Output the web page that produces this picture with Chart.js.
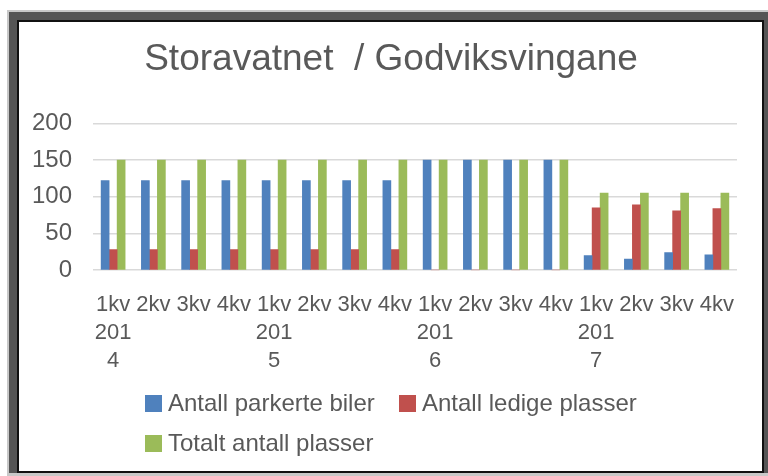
<!DOCTYPE html>
<html>
<head>
<meta charset="utf-8">
<script src="https://cdn.jsdelivr.net/npm/chart.js@4"></script>
<style>
  html, body { margin: 0; padding: 0; background: #ffffff; width: 768px; height: 476px; overflow: hidden; }
  .abs { position: absolute; box-sizing: border-box; }
  #outer { left: 7px; top: 10px; width: 761px; height: 466px; background: #c8c8c8; }
  #dark { left: 9px; top: 12px; width: 759px; height: 461px; background: #555555; }
  #inner { left: 17px; top: 20px; width: 747px; height: 453px; border: 2px solid #111111; background: #ffffff; }
  #chart { position: absolute; left: 0; top: 0; }
  .lg-box { position: absolute; width: 17px; height: 17px; }
  .lg-text { position: absolute; font-family: "Liberation Sans", Arial, sans-serif; font-size: 24px; color: #595959; line-height: 28px; white-space: nowrap; }
</style>
</head>
<body>
<div id="outer" class="abs"></div>
<div id="dark" class="abs"></div>
<div id="inner" class="abs"></div>
<canvas id="chart" width="768" height="476"></canvas>
<div id="legend"></div>
<script>
// ---- data ----
const categories = [
  ["1kv", "201", "4"], "2kv", "3kv", "4kv",
  ["1kv", "201", "5"], "2kv", "3kv", "4kv",
  ["1kv", "201", "6"], "2kv", "3kv", "4kv",
  ["1kv", "201", "7"], "2kv", "3kv", "4kv"
];
const seriesNames = ["Antall parkerte biler", "Antall ledige plasser", "Totalt antall plasser"];
const parkerteBiler = [122, 122, 122, 122, 122, 122, 122, 122, 150, 150, 150, 150, 20, 15, 24, 21];
const ledigePlasser = [28, 28, 28, 28, 28, 28, 28, 28, 0, 0, 0, 0, 85, 89, 81, 84];
const totaltPlasser = [150, 150, 150, 150, 150, 150, 150, 150, 150, 150, 150, 150, 105, 105, 105, 105];
const yMin = 0, yMax = 200, yStep = 50;
const chartTitle = "Storavatnet  / Godviksvingane";

const colors = ["#4f81bd", "#c0504d", "#9bbb59"];
const FONT = "'Liberation Sans', Arial, sans-serif";
const GREY = "#595959";

// widen the label clip area of the y axis so its tick labels are not cut
const yLabelRoom = {
  id: "yLabelRoom",
  afterLayout(chart) { chart.scales.y.left = 19; }
};

const ctx = document.getElementById("chart").getContext("2d");
const chart = new Chart(ctx, {
  type: "bar",
  data: {
    labels: categories,
    datasets: [
      { label: seriesNames[0], data: parkerteBiler, backgroundColor: colors[0] },
      { label: seriesNames[1], data: ledigePlasser, backgroundColor: colors[1] },
      { label: seriesNames[2], data: totaltPlasser, backgroundColor: colors[2] }
    ]
  },
  plugins: [yLabelRoom],
  options: {
    responsive: false,
    animation: false,
    events: [],
    datasets: { bar: { barThickness: 8, categoryPercentage: 0.67, barPercentage: 0.89, borderWidth: 0 } },
    layout: { padding: { left: 45, right: 31, top: 21, bottom: 80 } },
    plugins: {
      legend: { display: false },
      tooltip: { enabled: false },
      title: {
        display: true,
        text: chartTitle,
        color: GREY,
        font: { family: FONT, size: 37, weight: "normal", lineHeight: 1.2 },
        padding: { top: 17, bottom: 41 }
      }
    },
    scales: {
      x: {
        grid: { display: false, drawTicks: false },
        border: { display: false },
        ticks: {
          color: GREY,
          font: { family: FONT, size: 22, lineHeight: 1.27 },
          padding: 21,
          autoSkip: false,
          maxRotation: 0,
          minRotation: 0
        }
      },
      y: {
        min: yMin,
        max: yMax,
        afterFit: (scale) => { scale.width = 48; },
        grid: { color: "#d9d9d9", lineWidth: 1.5, drawTicks: false },
        border: { display: false },
        ticks: {
          stepSize: yStep,
          autoSkip: false,
          color: GREY,
          font: { family: FONT, size: 24 },
          padding: 21
        }
      }
    }
  }
});

// ---- legend (HTML, built from the chart datasets) ----
const legendPos = [
  { box: [145, 395], text: [168, 389] },
  { box: [399, 395], text: [422, 389] },
  { box: [145, 435], text: [168, 429] }
];
const legendEl = document.getElementById("legend");
chart.data.datasets.forEach((ds, i) => {
  const p = legendPos[i];
  const b = document.createElement("div");
  b.className = "lg-box";
  b.style.left = p.box[0] + "px";
  b.style.top = p.box[1] + "px";
  b.style.background = ds.backgroundColor;
  legendEl.appendChild(b);
  const t = document.createElement("div");
  t.className = "lg-text";
  t.style.left = p.text[0] + "px";
  t.style.top = p.text[1] + "px";
  t.textContent = ds.label;
  legendEl.appendChild(t);
});
</script>
</body>
</html>
